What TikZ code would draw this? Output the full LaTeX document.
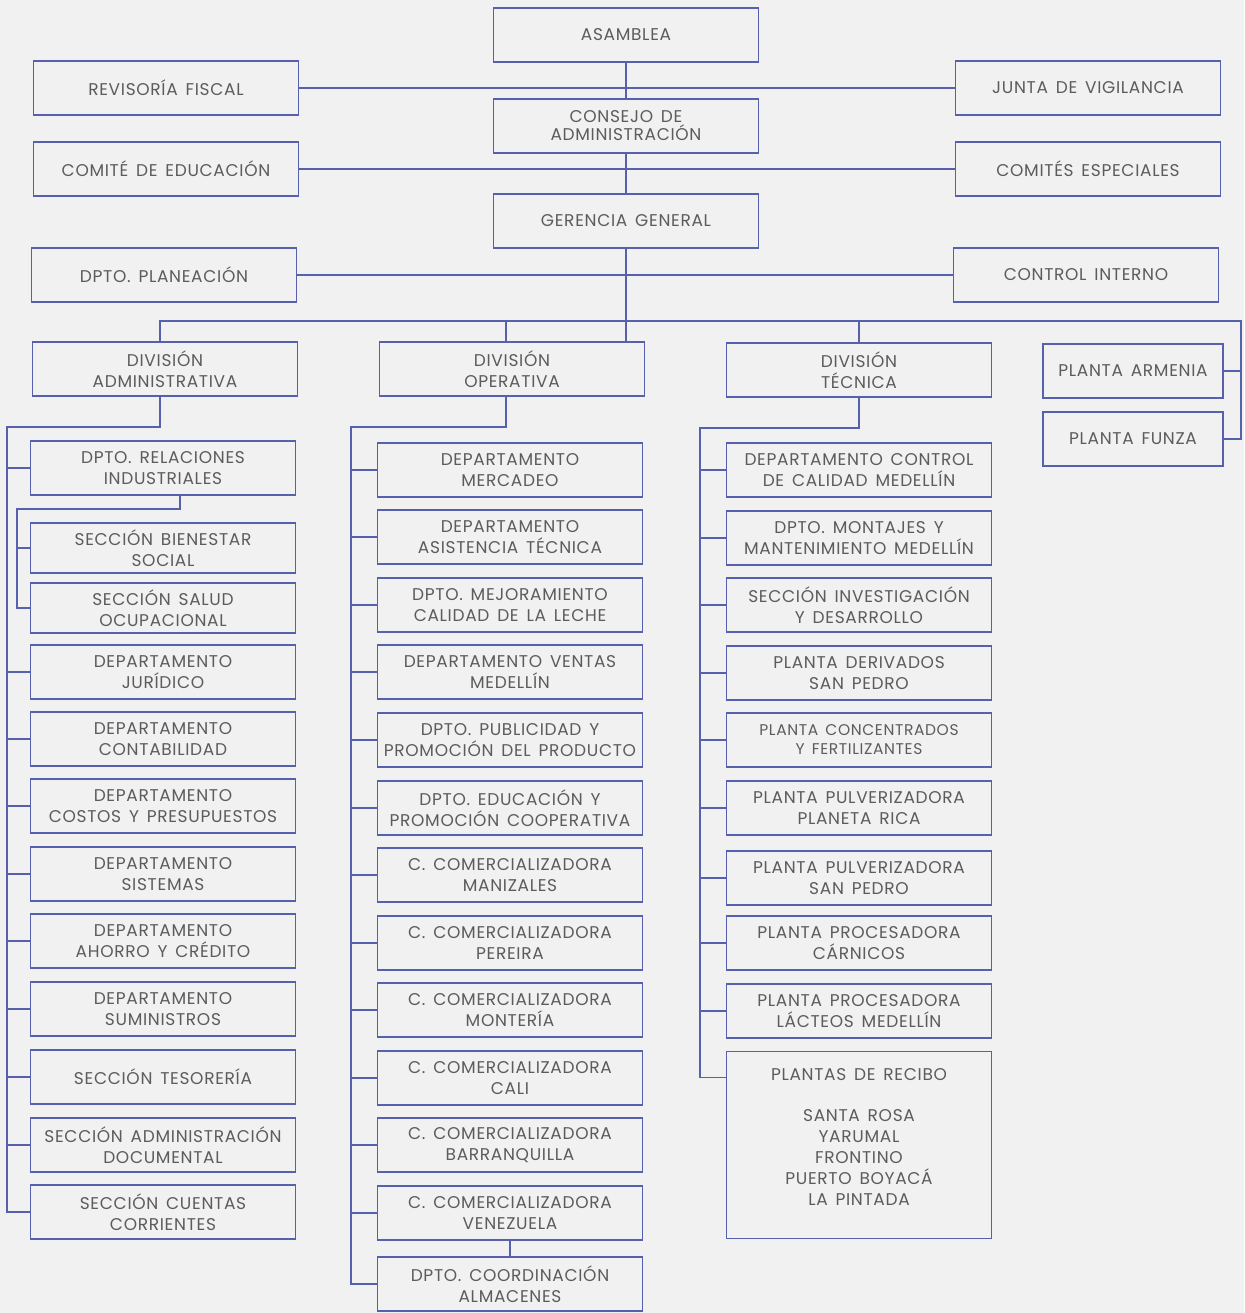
\documentclass[tikz,border=0pt]{standalone}
\usepackage{fontspec}
\setmainfont{Poppins}[LetterSpace=4, WordSpace=1.5]
\definecolor{orgline}{RGB}{86,96,172}
\definecolor{orgtext}{RGB}{92,92,92}
\definecolor{paper}{RGB}{241,241,241}
\tikzset{
  unit/.style={draw=orgline, line width=1.4pt, text=orgtext, align=center,
    minimum width=265pt, minimum height=54pt, inner sep=2pt, outer sep=0pt,
    font=\fontsize{17}{21.5}\selectfont},
  short/.style={unit, minimum height=50pt},
  plant/.style={unit, minimum width=180pt},
  link/.style={orgline, line width=1.4pt},
}

\begin{document}
\begin{tikzpicture}[x=1pt, y=-1pt]
\fill[paper] (0,0) rectangle (1244,1313);
\useasboundingbox (0,0) rectangle (1244,1313);

% direccion
\node[unit] (asamblea) at (626,35) {ASAMBLEA};
\node[unit, font=\fontsize{17}{18}\selectfont] (consejo) at (626,126) {CONSEJO DE\\ADMINISTRACIÓN};
\node[unit] (gerencia) at (626,221) {GERENCIA GENERAL};
\node[unit] (revisoria) at (166,88) {REVISORÍA FISCAL};
\node[unit] (comite) at (166,169) {COMITÉ DE EDUCACIÓN};
\node[unit] (planeacion) at (164,275) {DPTO. PLANEACIÓN};
\node[unit] (junta) at (1088,88) {JUNTA DE VIGILANCIA};
\node[unit] (especiales) at (1088,169) {COMITÉS ESPECIALES};
\node[unit] (control) at (1086,275) {CONTROL INTERNO};

% divisiones
\node[unit] (divadm) at (165,369) {DIVISIÓN\\ADMINISTRATIVA};
\node[unit] (divop) at (512,369) {DIVISIÓN\\OPERATIVA};
\node[unit] (divtec) at (859,370) {DIVISIÓN\\TÉCNICA};
\node[plant] (armenia) at (1133,371) {PLANTA ARMENIA};
\node[plant] (funza) at (1133,439) {PLANTA FUNZA};

% administrativa
\foreach \n/\y/\t in {
  1/468/{DPTO. RELACIONES\\INDUSTRIALES},
  4/672/{DEPARTAMENTO\\JURÍDICO},
  5/739/{DEPARTAMENTO\\CONTABILIDAD},
  6/806/{DEPARTAMENTO\\COSTOS Y PRESUPUESTOS},
  7/874/{DEPARTAMENTO\\SISTEMAS},
  8/941/{DEPARTAMENTO\\AHORRO Y CRÉDITO},
  9/1009/{DEPARTAMENTO\\SUMINISTROS},
  10/1077/{SECCIÓN TESORERÍA},
  11/1145/{SECCIÓN ADMINISTRACIÓN\\DOCUMENTAL},
  12/1212/{SECCIÓN CUENTAS\\CORRIENTES}}
  \node[unit] (adm\n) at (163,\y) {\t};
\node[short] (adm2) at (163,548) {SECCIÓN BIENESTAR\\SOCIAL};
\node[short] (adm3) at (163,608) {SECCIÓN SALUD\\OCUPACIONAL};

% operativa
\foreach \n/\y/\t in {
  1/470/{DEPARTAMENTO\\MERCADEO},
  2/537/{DEPARTAMENTO\\ASISTENCIA TÉCNICA},
  3/605/{DPTO. MEJORAMIENTO\\CALIDAD DE LA LECHE},
  4/672/{DEPARTAMENTO VENTAS\\MEDELLÍN},
  5/740/{DPTO. PUBLICIDAD Y\\PROMOCIÓN DEL PRODUCTO},
  6/808/{DPTO. EDUCACIÓN Y\\PROMOCIÓN COOPERATIVA},
  7/875/{C. COMERCIALIZADORA\\MANIZALES},
  8/943/{C. COMERCIALIZADORA\\PEREIRA},
  9/1010/{C. COMERCIALIZADORA\\MONTERÍA},
  10/1078/{C. COMERCIALIZADORA\\CALI},
  11/1145/{C. COMERCIALIZADORA\\BARRANQUILLA},
  12/1213/{C. COMERCIALIZADORA\\VENEZUELA},
  13/1284/{DPTO. COORDINACIÓN\\ALMACENES}}
  \node[unit] (op\n) at (510,\y) {\t};

% tecnica
\foreach \n/\y/\t in {
  1/470/{DEPARTAMENTO CONTROL\\DE CALIDAD MEDELLÍN},
  2/538/{DPTO. MONTAJES Y\\MANTENIMIENTO MEDELLÍN},
  3/605/{SECCIÓN INVESTIGACIÓN\\Y DESARROLLO},
  4/673/{PLANTA DERIVADOS\\SAN PEDRO},
  6/808/{PLANTA PULVERIZADORA\\PLANETA RICA},
  7/878/{PLANTA PULVERIZADORA\\SAN PEDRO},
  8/943/{PLANTA PROCESADORA\\CÁRNICOS},
  9/1011/{PLANTA PROCESADORA\\LÁCTEOS MEDELLÍN}}
  \node[unit] (tec\n) at (859,\y) {\t};
\node[unit, font=\fontsize{15.5}{19}\selectfont] (tec5) at (859,740) {PLANTA CONCENTRADOS\\Y FERTILIZANTES};
\node[unit, minimum height=187pt] (tec10) at (859,1145) {};
\node[text=orgtext, align=center, font=\fontsize{17}{21}\selectfont] (recibo) at (859,1137)
  {PLANTAS DE RECIBO\\[20pt]SANTA ROSA\\YARUMAL\\FRONTINO\\PUERTO BOYACÁ\\LA PINTADA};

% lineas superiores
\draw[link] (asamblea) -- (consejo) -- (gerencia) -- (gerencia |- divop.north);
\draw[link] (revisoria) -- (junta);
\draw[link] (comite) -- (especiales);
\draw[link] (planeacion) -- (control);

% barra de divisiones
\coordinate (busR) at (1241,321);
\draw[link] ([xshift=-5pt]divadm.north) |- (busR) |- (armenia.east);
\draw[link] (busR) |- (funza.east);
\draw[link] ([xshift=-6pt]divop.north) -- ([xshift=-6pt]divop.north |- busR);
\draw[link] (divtec.north) -- (divtec.north |- busR);

% ramas
\coordinate (admL) at (7,427);
\coordinate (relL) at (17,509);
\coordinate (opL) at (351,427);
\coordinate (tecL) at (700,428);
\draw[link] ([xshift=-5pt]divadm.south) |- (admL) |- (adm12.west);
\foreach \n in {1,4,5,...,11}
  \draw[link] (adm\n.west) -- (adm\n.west -| admL);
\draw[link] ([xshift=17pt]adm1.south) |- (relL) |- (adm3.west);
\draw[link] (adm2.west) -- (adm2.west -| relL);

\draw[link] ([xshift=-6pt]divop.south) |- (opL) |- (op13.west);
\foreach \n in {1,...,12}
  \draw[link] (op\n.west) -- (op\n.west -| opL);
\draw[link] (op12) -- (op13);

\draw[link] (divtec.south) |- (tecL) |- ([yshift=-26pt]tec10.north west);
\foreach \n in {1,...,9}
  \draw[link] (tec\n.west) -- (tec\n.west -| tecL);
\end{tikzpicture}
\end{document}
